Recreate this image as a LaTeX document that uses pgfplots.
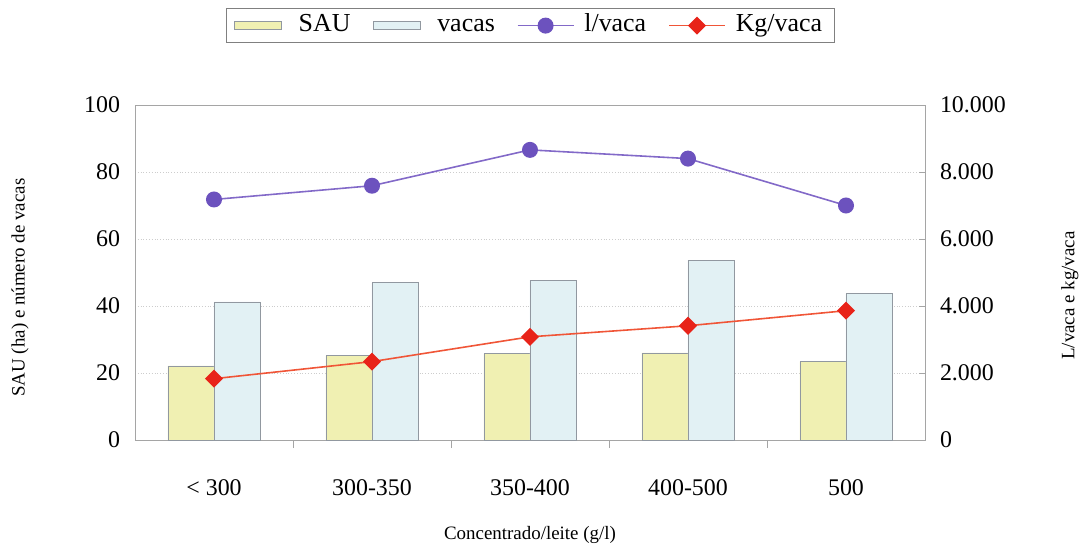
\documentclass[border=0pt]{standalone}
\usepackage{pgfplots}
\pgfplotsset{compat=1.18}
\usepackage{fontspec}
\setmainfont{Liberation Serif}
\definecolor{saufill}{RGB}{240,240,178}
\definecolor{vacfill}{RGB}{226,241,244}
\definecolor{baredge}{RGB}{145,152,160}
\definecolor{lcol}{RGB}{130,105,200}
\definecolor{lmark}{RGB}{108,82,190}
\definecolor{kcol}{RGB}{240,85,55}
\definecolor{kmark}{RGB}{232,35,25}
\definecolor{axgray}{RGB}{165,165,165}
\definecolor{gridgray}{RGB}{205,205,205}

% bars: SAU (ha) and number of cows
\pgfplotstableread{
x sau vacas
0 22.1 41.2
1 25.2 46.9
2 25.8 47.7
3 26.0 53.7
4 23.4 43.7
}\bardata
% lines: l/vaca and kg/vaca
\pgfplotstableread{
x lvaca kgvaca
0 7180 1830
1 7590 2340
2 8660 3080
3 8400 3410
4 7000 3860
}\linedata

\begin{document}
\begin{tikzpicture}
\useasboundingbox (-67.5bp,-52.5bp) rectangle (476bp,220bp);
\pgfplotsset{
  base/.style={
    scale only axis, width=395bp, height=167.5bp,
    xmin=-0.5, xmax=4.5,
    axis line style={axgray},
    tick style={axgray},
    /pgf/number format/assume math mode=true,
    ticklabel style={font=\fontsize{12}{14}\selectfont},
  },
  barleg/.style={legend image code/.code={\draw[#1] (0bp,-2bp) rectangle (23.5bp,2bp); \path (30bp,0bp);}},
  lineleg/.style={legend image code/.code={\draw[#1, mark repeat=2, mark phase=2] plot coordinates {(0bp,0bp) (14bp,0bp) (28bp,0bp)}; \path (31bp,0bp);}},
}
\begin{axis}[
  base,
  ybar=0pt, bar width=23bp,
  ymin=0, ymax=100, ytick={0,20,...,100},
  ytick pos=left, ymajorgrids,
  grid style={gridgray, densely dotted},
  xtick={0,...,4},
  xticklabels={{< 300},300-350,350-400,400-500,500},
  xtick pos=bottom, major tick length=0pt,
  xticklabel style={yshift=-16.5bp},
  yticklabel style={xshift=-4bp},
  extra x ticks={0.5,1.5,2.5,3.5},
  extra x tick labels={},
  extra x tick style={major tick length=4bp, tick align=outside, xmajorgrids=false},
  xlabel={Concentrado/leite (g/l)},
  ylabel={SAU (ha) e número de vacas},
  label style={font=\fontsize{9.5}{11}\selectfont},
  xlabel style={at={(axis description cs:0.5,-0.2836)}, anchor=center},
  ylabel style={at={(axis description cs:-0.1456,0.455)}, anchor=center},
]
\addplot[fill=saufill, draw=baredge] table[x=x, y=sau] {\bardata};
\addplot[fill=vacfill, draw=baredge] table[x=x, y=vacas] {\bardata};
\end{axis}

\begin{axis}[
  base,
  ymin=0, ymax=10000, ytick={0,2000,...,10000},
  axis x line=none, axis y line*=right,
  scaled y ticks=false,
  /pgf/number format/fixed, /pgf/number format/precision=0,
  /pgf/number format/1000 sep={.},
  tick align=inside, major tick length=3bp,
  yticklabel style={xshift=4bp},
  ylabel={L/vaca e kg/vaca},
  ylabel style={font=\fontsize{9.5}{11}\selectfont, at={(axis description cs:1.1835,0.431)}, anchor=center},
  legend style={at={(0.5,1)}, anchor=south, yshift=31bp, legend columns=4,
    draw=gray, font=\fontsize{13}{15}\selectfont, inner ysep=1bp, inner xsep=4bp,
    nodes={text height=8.5bp, text depth=2.5bp},
    /tikz/every even column/.append style={column sep=9bp}},
]
\addlegendimage{barleg, fill=saufill, draw=baredge}
\addlegendentry{SAU}
\addlegendimage{barleg, fill=vacfill, draw=baredge}
\addlegendentry{vacas}
\addplot[lineleg, lcol, line width=0.8pt, mark=*, mark size=3.6bp, mark options={fill=lmark, draw=lmark}] table[x=x, y=lvaca] {\linedata};
\addlegendentry{l/vaca}
\addplot[lineleg, kcol, line width=0.8pt, mark=square*, mark size=2.8bp, mark options={fill=kmark, draw=kmark, rotate=45}] table[x=x, y=kgvaca] {\linedata};
\addlegendentry{Kg/vaca}
\end{axis}
\end{tikzpicture}
\end{document}
